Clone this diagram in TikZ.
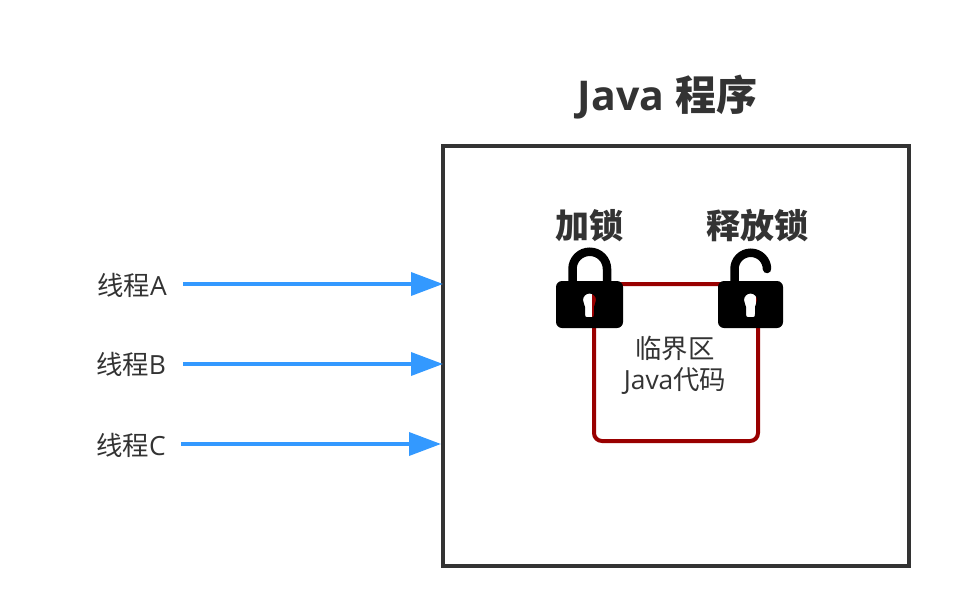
\documentclass[tikz,border=0pt]{standalone}
\usepackage{fontspec}
\setmainfont{Open Sans}
\newfontfamily\cjk{Noto Sans CJK SC}
\usetikzlibrary{arrows.meta}
\definecolor{ink}{HTML}{333333}
\definecolor{flow}{HTML}{3399FF}
\definecolor{zone}{HTML}{990000}
\tikzset{
  flowarrow/.style={draw=flow,line width=3.6pt,-{Triangle[length=32pt,width=23pt,fill=flow]}},
  lbl/.style={text=ink,inner sep=0pt,font=\fontsize{26.4}{29}\selectfont},
  head/.style={text=ink,inner sep=0pt,font=\fontsize{34}{38}\selectfont\bfseries\cjk},
  shackle/.style={draw=black,line width=8.5pt},
  lockbody/.style={fill=black,even odd rule},
}
\newcommand{\keyhole}[2]{% centre x, head y
  (#1-6.5,#2) arc[start angle=180,end angle=360,radius=6.5]
  .. controls (#1+6.5,#2+3) and (#1+4.5,#2+5) .. (#1+4.5,#2+7) -- (#1+4.5,#2+14)
  .. controls (#1+4.5,#2+16) and (#1+4,#2+17) .. (#1+3,#2+17) -- (#1-3,#2+17)
  .. controls (#1-4,#2+17) and (#1-4.5,#2+16) .. (#1-4.5,#2+14) -- (#1-4.5,#2+7)
  .. controls (#1-4.5,#2+5) and (#1-6.5,#2+3) .. (#1-6.5,#2) -- cycle}
\begin{document}
\begin{tikzpicture}[x=1pt,y=-1pt]
\useasboundingbox (0,0) rectangle (959,616);
\fill[white] (0,0) rectangle (959,616);
% program box
\node[draw=ink,line width=4pt,outer sep=0pt,minimum width=466pt,minimum height=420pt,inner sep=0pt,anchor=north west] (box) at (443,146) {};
\node[text=ink,inner sep=0pt,font=\fontsize{41}{45}\selectfont\bfseries] (title) at (667.5,97) {Java {\cjk\fontsize{41}{45}\selectfont\bfseries 程序}};
% critical section
\node[draw=zone,line width=4pt,outer sep=0pt,rounded corners=8pt,minimum width=164pt,minimum height=157pt,inner sep=0pt,anchor=north west] (zone) at (594,284) {};
\node[lbl,align=center] (code) at (675,365.5) {{\cjk 临界区}\\[2pt]Java{\cjk 代码}};
% closed lock
\fill[lockbody] [rounded corners=6pt] (556,281) rectangle (623,328) [sharp corners] \keyhole{589.5}{300};
\draw[shackle] (572.5,285) -- (572.5,269) arc[start angle=180,end angle=360,radius=17.25] -- (607,285);
% open lock
\fill[lockbody] [rounded corners=6pt] (718,281) rectangle (783,328) [sharp corners] \keyhole{750.5}{300};
\draw[shackle,line cap=round] (734.5,282) -- (734.5,269) arc[start angle=180,end angle=360,radius=16.25];
\node[head] (lockon) at (589,226) {加锁};
\node[head] (lockoff) at (757,226) {释放锁};
% threads
\node[lbl] (ta) at (132,285) {{\cjk 线程}A};
\node[lbl] (tb) at (131,364) {{\cjk 线程}B};
\node[lbl] (tc) at (131,445) {{\cjk 线程}C};
\coordinate (sa) at (183,284);
\coordinate (sb) at (183,364);
\coordinate (sc) at (181,444);
\draw[flowarrow] (sa) -- (sa -| box.west);
\draw[flowarrow] (sb) -- (sb -| box.west);
\draw[flowarrow] (sc) -- ([xshift=-2pt]sc -| box.west);
\end{tikzpicture}
\end{document}
